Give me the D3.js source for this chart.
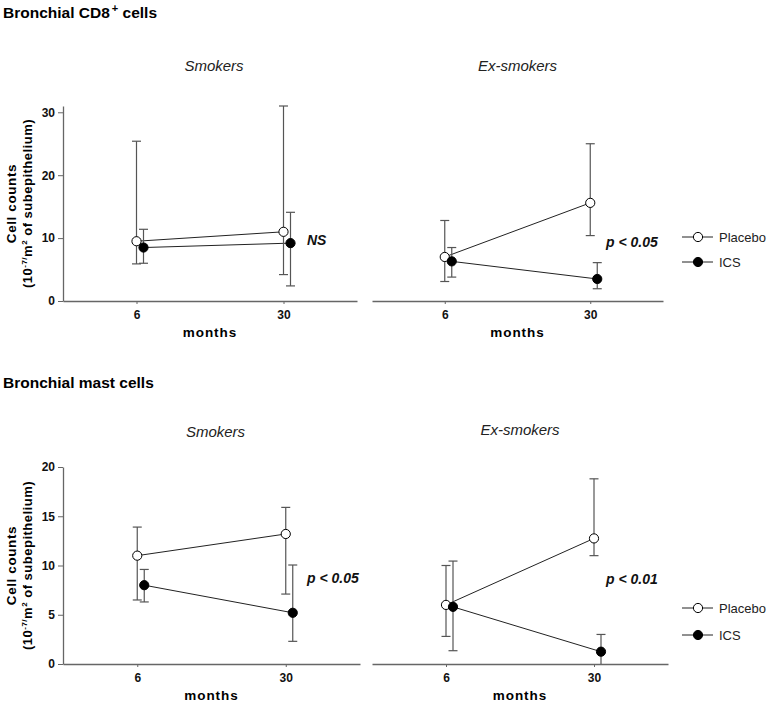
<!DOCTYPE html>
<html><head><meta charset="utf-8">
<script src="https://cdn.jsdelivr.net/npm/d3@7"></script>
<style>
body{margin:0;background:#fff;}
text{font-family:"Liberation Sans",Arial,sans-serif;}
</style></head>
<body><svg id="c" width="776" height="702"></svg>
<script>
// ---- data ----
const timepoints = ["6", "30"];
const seriesNames = ["Placebo", "ICS"];
const groupNames = ["Smokers", "Ex-smokers"];
const sectionTitles = ["Bronchial CD8", "Bronchial mast cells"];
const pLabels = ["NS", "p < 0.05", "p < 0.05", "p < 0.01"];
const cd8Ticks = [0, 10, 20, 30];
const mastTicks = [0, 5, 10, 15, 20];

// CD8 smokers
const cd8SmkPlacebo = [9.5, 11.0], cd8SmkPlaceboLo = [5.9, 4.2], cd8SmkPlaceboHi = [25.4, 31.0];
const cd8SmkICS = [8.5, 9.2], cd8SmkICSLo = [6.0, 2.4], cd8SmkICSHi = [11.4, 14.1];
// CD8 ex-smokers
const cd8ExPlacebo = [7.0, 15.6], cd8ExPlaceboLo = [3.1, 10.4], cd8ExPlaceboHi = [12.8, 25.0];
const cd8ExICS = [6.3, 3.5], cd8ExICSLo = [3.8, 1.95], cd8ExICSHi = [8.5, 6.1];
// Mast smokers
const mastSmkPlacebo = [11.0, 13.2], mastSmkPlaceboLo = [6.5, 7.1], mastSmkPlaceboHi = [13.9, 15.9];
const mastSmkICS = [8.0, 5.2], mastSmkICSLo = [6.3, 2.3], mastSmkICSHi = [9.6, 10.05];
// Mast ex-smokers
const mastExPlacebo = [6.0, 12.75], mastExPlaceboLo = [2.8, 11.0], mastExPlaceboHi = [10.0, 18.8];
const mastExICS = [5.8, 1.25], mastExICSLo = [1.35, 0], mastExICSHi = [10.45, 3.0];

const svg = d3.select("#c");
const axisCol = "#666", barCol = "#555";

function mk(mean, lo, hi){ return timepoints.map((t,i)=>({t, v:mean[i], lo:lo[i], hi:hi[i]})); }

const panels = [
  {x0:63, x1:357, yTop:106, yBot:301, dom:[0,31], ticks:cd8Ticks, yaxis:true, group:0, p:pLabels[0], pX:307, pY:245,
   placebo:mk(cd8SmkPlacebo,cd8SmkPlaceboLo,cd8SmkPlaceboHi), ics:mk(cd8SmkICS,cd8SmkICSLo,cd8SmkICSHi), titleY:71},
  {x0:372, x1:663, yTop:106, yBot:301, dom:[0,31], ticks:cd8Ticks, yaxis:false, group:1, p:pLabels[1], pX:606, pY:247,
   placebo:mk(cd8ExPlacebo,cd8ExPlaceboLo,cd8ExPlaceboHi), ics:mk(cd8ExICS,cd8ExICSLo,cd8ExICSHi), titleY:71, legendY:[237,262]},
  {x0:63, x1:360, yTop:467, yBot:664, dom:[0,20], ticks:mastTicks, yaxis:true, group:0, p:pLabels[2], pX:307, pY:583,
   placebo:mk(mastSmkPlacebo,mastSmkPlaceboLo,mastSmkPlaceboHi), ics:mk(mastSmkICS,mastSmkICSLo,mastSmkICSHi), titleY:437},
  {x0:372, x1:668, yTop:467, yBot:664, dom:[0,20], ticks:mastTicks, yaxis:false, group:1, p:pLabels[3], pX:606, pY:584,
   placebo:mk(mastExPlacebo,mastExPlaceboLo,mastExPlaceboHi), ics:mk(mastExICS,mastExICSLo,mastExICSHi), titleY:435, legendY:[608,635]}
];

// section titles
const t1 = svg.append("text").attr("x",3).attr("y",18).attr("font-size",15.5).attr("font-weight","bold");
t1.append("tspan").text(sectionTitles[0]);
t1.append("tspan").text("+").attr("dy",-6).attr("dx",2).attr("font-size",11);
t1.append("tspan").text(" cells").attr("dy",6);
svg.append("text").attr("x",3).attr("y",388).attr("font-size",15.5).attr("font-weight","bold").text(sectionTitles[1]);

const ICS_OFF = 7;

panels.forEach(P=>{
  const g = svg.append("g");
  const x = d3.scalePoint().domain(timepoints).range([P.x0, P.x1]).padding(0.5);
  const y = d3.scaleLinear().domain(P.dom).range([P.yBot, P.yTop]);

  // group title
  g.append("text").attr("x",(P.x0+P.x1)/2+ (P.yaxis?4:0)).attr("y",P.titleY).attr("text-anchor","middle")
    .attr("font-size",15).attr("font-style","italic").attr("fill","#222").text(groupNames[P.group]);

  // x axis
  const xa = g.append("g").attr("transform",`translate(0,${P.yBot})`)
    .call(d3.axisBottom(x).tickSize(3).tickSizeOuter(0).tickPadding(6));
  xa.select(".domain").attr("stroke",axisCol).attr("stroke-width",1.3);
  xa.selectAll(".tick line").attr("stroke",axisCol);
  xa.selectAll(".tick text").attr("font-size",12).attr("font-weight","bold").attr("fill","#111")
    .attr("font-family","Liberation Sans, Arial, sans-serif");
  g.append("text").attr("x",(x("6")+x("30"))/2).attr("y",P.yBot+36).attr("text-anchor","middle")
    .attr("font-size",13.5).attr("font-weight","bold").attr("letter-spacing",1).text("months");

  if(P.yaxis){
    const ya = g.append("g").attr("transform",`translate(${P.x0},0)`)
      .call(d3.axisLeft(y).tickValues(P.ticks).tickSize(5).tickSizeOuter(0).tickPadding(3));
    ya.select(".domain").attr("stroke",axisCol).attr("stroke-width",1.3);
    ya.selectAll(".tick line").attr("stroke",axisCol);
    ya.selectAll(".tick text").attr("font-size",12).attr("font-weight","bold").attr("fill","#111")
      .attr("font-family","Liberation Sans, Arial, sans-serif");
    const cy = (P.yTop+P.yBot)/2;
    g.append("text").attr("transform",`translate(16,${cy}) rotate(-90)`).attr("text-anchor","middle")
      .attr("font-size",13.5).attr("font-weight","bold").attr("letter-spacing",0.6).text("Cell counts");
    const yt2 = g.append("text").attr("transform",`translate(32,${cy}) rotate(-90)`).attr("text-anchor","middle")
      .attr("font-size",13).attr("font-weight","bold").attr("letter-spacing",0.5);
    yt2.append("tspan").text("(10");
    yt2.append("tspan").text("-7/").attr("font-size",8).attr("dy",-5);
    yt2.append("tspan").text("m").attr("dy",5);
    yt2.append("tspan").text("2").attr("font-size",8).attr("dy",-5);
    yt2.append("tspan").text(" of subepithelium)").attr("dy",5);
  }

  const series = [{d:P.placebo, off:0, fill:"#fff"},{d:P.ics, off:ICS_OFF, fill:"#000"}];
  // connecting lines
  series.forEach(s=>{
    g.append("path").datum(s.d)
      .attr("d", d3.line().x(d=>x(d.t)+s.off).y(d=>y(d.v)))
      .attr("fill","none").attr("stroke","#222").attr("stroke-width",1);
  });
  // error bars
  series.forEach(s=>{
    s.d.forEach(d=>{
      const cx = x(d.t)+s.off;
      g.append("line").attr("x1",cx).attr("x2",cx).attr("y1",y(d.lo)).attr("y2",y(d.hi))
        .attr("stroke",barCol).attr("stroke-width",1.2);
      g.append("line").attr("x1",cx-4.5).attr("x2",cx+4.5).attr("y1",y(d.hi)).attr("y2",y(d.hi))
        .attr("stroke",barCol).attr("stroke-width",1.2);
      if(d.lo>0) g.append("line").attr("x1",cx-4.5).attr("x2",cx+4.5).attr("y1",y(d.lo)).attr("y2",y(d.lo))
        .attr("stroke",barCol).attr("stroke-width",1.2);
    });
  });
  // markers
  series.forEach(s=>{
    g.selectAll(null).data(s.d).enter().append("circle")
      .attr("cx",d=>x(d.t)+s.off).attr("cy",d=>y(d.v)).attr("r",4.6)
      .attr("fill",s.fill).attr("stroke","#000").attr("stroke-width",1);
  });

  // p label
  g.append("text").attr("x",P.pX).attr("y",P.pY).attr("font-size",14).attr("font-weight","bold")
    .attr("font-style","italic").attr("fill","#111").text(P.p);

  // legend
  if(P.legendY){
    [0,1].forEach(i=>{
      const ly = P.legendY[i];
      g.append("line").attr("x1",682).attr("x2",713).attr("y1",ly).attr("y2",ly).attr("stroke","#222").attr("stroke-width",1);
      g.append("circle").attr("cx",698).attr("cy",ly).attr("r",4.6).attr("fill",i===0?"#fff":"#000").attr("stroke","#000");
      g.append("text").attr("x",719).attr("y",ly+4.5).attr("font-size",13).attr("fill","#222").text(seriesNames[i]);
    });
  }
});
</script></body></html>
